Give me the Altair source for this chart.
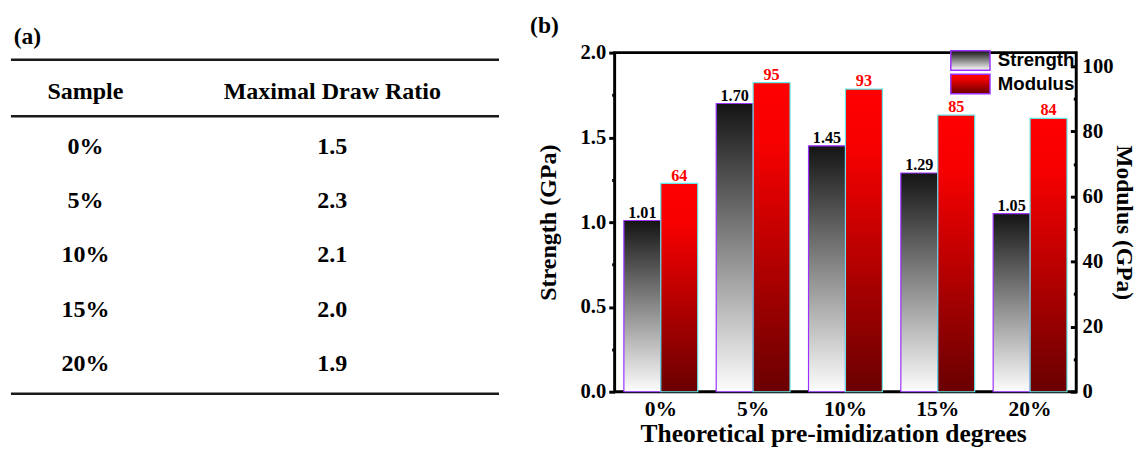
import altair as alt
import pandas as pd

# ---------------- data ----------------
table_headers = ["Sample", "Maximal Draw Ratio"]
samples = ["0%", "5%", "10%", "15%", "20%"]
draw_ratio = ["1.5", "2.3", "2.1", "2.0", "1.9"]

degrees = ["0%", "5%", "10%", "15%", "20%"]
strength = [1.01, 1.70, 1.45, 1.29, 1.05]
modulus = [64, 95, 93, 85, 84]
series = ["Strength", "Modulus"]

serif = "Liberation Serif"
sans = "Liberation Sans"

# ---------------- (a) table ----------------
cells = pd.DataFrame(
    {
        "row": [0, 0] + list(range(1, len(samples) + 1)) * 2,
        "col": [0, 1] + [0] * len(samples) + [1] * len(samples),
        "label": table_headers + samples + draw_ratio,
    }
)
rules = pd.DataFrame({"row": [-0.6, 0.44, len(samples) + 0.54]})

ty = alt.Scale(domain=[-0.73, 6.297], reverse=True)
tx = alt.Scale(domain=[-0.3016, 1.675])

table_text = alt.Chart(cells).mark_text(
    font=serif, fontSize=24.5, fontWeight="bold", color="black", align="center", baseline="middle"
).encode(
    x=alt.X("col:Q", scale=tx, axis=None),
    y=alt.Y("row:Q", scale=ty, axis=None),
    text="label:N",
)
table_rules = alt.Chart(rules).mark_rule(color="#1a1a1a", strokeWidth=2.5).encode(
    y=alt.Y("row:Q", scale=ty, axis=None)
)
table = alt.layer(table_rules, table_text).properties(
    width=498,
    height=390,
    title=alt.Title("(a)", anchor="start", font=serif, fontSize=24, fontWeight="bold",
                    color="black", offset=4, dx=4),
    view=alt.ViewBackground(stroke="transparent"),
)

# ---------------- (b) bar chart ----------------
def grad(stops):
    s = ", ".join("{offset: %s, color: '%s'}" % (o, c) for o, c in stops)
    return {"expr": "{gradient: 'linear', x1: 0, y1: 0, x2: 0, y2: 1, stops: [%s]}" % s}

fill_scale = alt.Scale(
    domain=series,
    range=[
        grad([(0, "#141414"), (1, "#fdfdfd")]),
        grad([(0, "#ff0000"), (0.2, "#f60000"), (1, "#6a0000")]),
    ],
)
legend = alt.Legend(
    orient="none", legendX=352, legendY=-3, padding=0,
    symbolType="M-2,-1H2V1H-2Z", symbolSize=400,
    symbolStrokeColor="#9b30ff", symbolStrokeWidth=1.5, symbolOpacity=1,
    labelFont=sans, labelFontWeight="bold", labelFontSize=19, labelColor="black",
    labelOffset=17, rowPadding=-4,
)

sdf = pd.DataFrame({"degree": degrees, "series": series[0], "value": strength})
mdf = pd.DataFrame({"degree": degrees, "series": series[1], "value": modulus})

x_enc = alt.X(
    "degree:N", sort=degrees,
    scale=alt.Scale(paddingInner=0.2, paddingOuter=0.1),
    title="Theoretical pre-imidization degrees",
    axis=alt.Axis(labelAngle=0, ticks=False, domain=False, labelPadding=7,
                  labelFont=serif, labelFontSize=22, labelFontWeight="bold", labelColor="black",
                  titleFont=serif, titleFontSize=26, titleFontWeight="bold", titleColor="black",
                  titlePadding=2, titleX=223),
)
xo_enc = alt.XOffset("series:N", scale=alt.Scale(domain=series, paddingInner=0, paddingOuter=0))

left_axis = alt.Axis(
    orient="left", values=[i * 0.25 for i in range(9)],
    labelExpr="datum.value % 0.5 == 0 ? format(datum.value, '.1f') : ''",
    tickSize={"condition": {"test": "datum.value % 0.5 == 0", "value": 6}, "value": 3},
    tickWidth=3, tickColor="black", domain=False, grid=False,
    labelFont=serif, labelFontSize=21, labelFontWeight="bold", labelColor="black", labelPadding=3,
    titleFont=serif, titleFontSize=24.5, titleFontWeight="bold", titleColor="black", titlePadding=20,
)
right_axis = alt.Axis(
    orient="right", values=list(range(0, 101, 10)),
    labelExpr="datum.value % 20 == 0 ? format(datum.value, 'd') : ''",
    tickSize={"condition": {"test": "datum.value % 20 == 0", "value": -6}, "value": -3},
    tickWidth=3, tickColor="black", domain=False, grid=False,
    labelFont=serif, labelFontSize=21, labelFontWeight="bold", labelColor="black", labelPadding=12,
    titleFont=serif, titleFontSize=24, titleFontWeight="bold", titleColor="black", titlePadding=-1,
    titleAngle=90,
)

ys = alt.Y("value:Q", scale=alt.Scale(domain=[0, 2]), axis=left_axis, title="Strength (GPa)")
ym = alt.Y("value:Q", scale=alt.Scale(domain=[0, 104.2]), axis=right_axis, title="Modulus (GPa)")

sbars = alt.Chart(sdf).mark_bar(stroke="#9b30ff", strokeWidth=1.2).encode(
    x=x_enc, xOffset=xo_enc, y=ys,
    fill=alt.Fill("series:N", scale=fill_scale, legend=legend, title=None),
)
stext = alt.Chart(sdf).mark_text(
    font=serif, fontSize=16.5, fontWeight="bold", color="black", baseline="alphabetic", dy=-3
).encode(x=x_enc, xOffset=xo_enc, y=ys, text=alt.Text("value:Q", format=".2f"))

mbars = alt.Chart(mdf).mark_bar(stroke="#66e6e6", strokeWidth=1.2).encode(
    x=x_enc, xOffset=xo_enc, y=ym,
    fill=alt.Fill("series:N", scale=fill_scale, legend=legend, title=None),
)
mtext = alt.Chart(mdf).mark_text(
    font=serif, fontSize=16.5, fontWeight="bold", color="#ff0000", baseline="alphabetic", dy=-3
).encode(x=x_enc, xOffset=xo_enc, y=ym, text=alt.Text("value:Q", format="d"))

plot = alt.layer(
    alt.layer(sbars, stext),
    alt.layer(mbars, mtext),
).resolve_scale(y="independent").properties(
    width=471,
    height=346,
    title=alt.Title("(b)", anchor="start", font=serif, fontSize=24, fontWeight="bold",
                    color="black", offset=4, dx=-6),
    view=alt.ViewBackground(stroke="black", strokeWidth=3),
)

chart = alt.hconcat(table, plot, spacing=28).resolve_scale(fill="independent").resolve_legend(
    fill="independent"
).properties(padding={"left": 1, "top": 0, "right": 0, "bottom": 0}, background="white")

chart.save("out.html", embed_options={"renderer": "svg", "actions": False})
